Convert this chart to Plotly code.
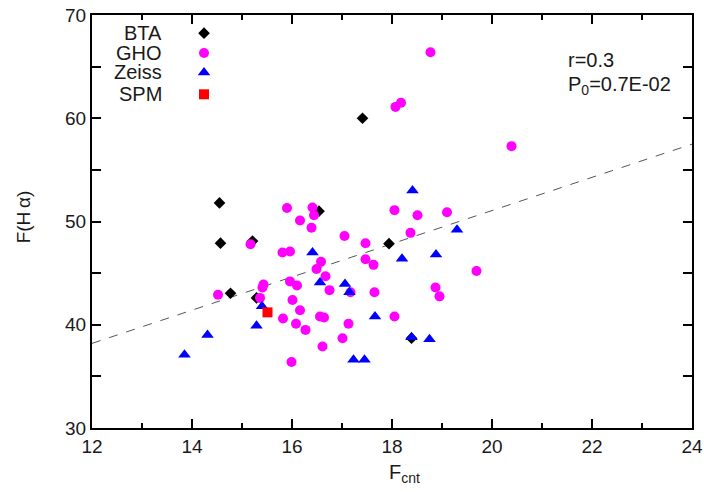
import plotly.graph_objects as go

# Observations by instrument: continuum flux vs H-alpha flux
bta_x = [14.55, 14.57, 14.77, 15.21, 15.29, 16.54, 17.41, 17.94, 18.39]
bta_y = [51.8, 47.9, 43.05, 48.1, 42.6, 51.0, 60.0, 47.85, 38.7]

gho_x = [15.90, 16.41, 16.44, 16.16, 16.39, 17.05, 17.47, 15.17, 15.81, 15.96,
         16.58, 16.49, 17.47, 17.63, 16.67, 15.96, 16.10, 15.43, 15.41, 14.52,
         16.75, 17.17, 17.65, 15.36, 16.01, 16.16, 15.82, 16.08, 16.56, 16.64,
         17.13, 16.27, 17.01, 16.61, 15.99, 18.05, 18.05, 18.51, 19.10, 18.37,
         19.69, 18.87, 18.95, 18.07, 18.18, 18.77, 20.39]
gho_y = [51.3, 51.35, 50.6, 50.1, 49.4, 48.6, 47.9, 47.8, 47.0, 47.1,
         46.1, 45.4, 46.35, 45.8, 44.7, 44.2, 43.8, 43.9, 43.6, 42.9,
         43.35, 43.15, 43.15, 42.6, 42.4, 41.4, 40.6, 40.1, 40.8, 40.7,
         40.1, 39.5, 38.7, 37.9, 36.4, 51.1, 40.8, 50.6, 50.9, 48.9,
         45.2, 43.6, 42.75, 61.1, 61.5, 66.4, 57.3]

zeiss_x = [16.41, 16.56, 17.06, 17.15, 15.40, 15.29, 14.31, 13.85, 17.23,
           17.45, 17.66, 18.20, 19.30, 18.88, 18.39, 18.75, 18.41]
zeiss_y = [47.0, 44.1, 43.95, 43.15, 41.8, 39.9, 39.0, 37.1, 36.6,
           36.6, 40.8, 46.4, 49.2, 46.8, 38.8, 38.6, 53.0]

spm_x = [15.51]
spm_y = [41.2]

# Linear fit F(Ha) = a + b * Fcnt
fit_a = 18.9
fit_b = 1.608
fit_x = [12, 24]

x_ticks = [12, 14, 16, 18, 20, 22, 24]
y_ticks = [30, 40, 50, 60, 70]

series_names = ["BTA", "GHO", "Zeiss", "SPM"]
series_symbols = ["diamond", "circle", "triangle-up", "square"]
series_colors = ["#000000", "#ff00ff", "#0000ff", "#ff0000"]
series_sizes = [9, 10, 11, 10]

FONT = "Liberation Sans, Arial, sans-serif"
TXT = "#1a1a1a"

fig = go.Figure()

fig.add_trace(go.Scatter(
    x=fit_x, y=[fit_a + fit_b * v for v in fit_x], mode="lines",
    line=dict(color="#555555", width=1, dash="dash"), showlegend=False,
    hoverinfo="skip"))

data = [(bta_x, bta_y), (gho_x, gho_y), (zeiss_x, zeiss_y), (spm_x, spm_y)]
for (xs, ys), name, sym, col, sz in zip(data, series_names, series_symbols,
                                         series_colors, series_sizes):
    fig.add_trace(go.Scatter(
        x=xs, y=ys, mode="markers", name=name,
        marker=dict(symbol=sym, color=col, size=sz, line=dict(width=0)),
        showlegend=False))

# Key: labels on the left, symbols on the right, on an overlay axis in [0,1]
key_y = [0.956, 0.908, 0.861, 0.808]
for name, sym, col, sz, ky in zip(series_names, series_symbols, series_colors,
                                  series_sizes, key_y):
    fig.add_trace(go.Scatter(
        x=[0.1867], y=[ky], mode="markers", xaxis="x2", yaxis="y2",
        marker=dict(symbol=sym, color=col, size=sz, line=dict(width=0)),
        showlegend=False, hoverinfo="skip"))
    fig.add_annotation(
        x=0.12, y=ky, xref="paper", yref="paper", text=name, showarrow=False,
        xanchor="right", yanchor="middle", font=dict(family=FONT, size=20, color=TXT))

fig.add_annotation(
    x=0.79, y=0.891, xref="paper", yref="paper", text="r=0.3", showarrow=False,
    xanchor="left", yanchor="middle", font=dict(family=FONT, size=20, color=TXT))
fig.add_annotation(
    x=0.79, y=0.829, xref="paper", yref="paper", text="P<sub>0</sub>=0.7E-02",
    showarrow=False, xanchor="left", yanchor="middle",
    font=dict(family=FONT, size=20, color=TXT))

# Axis titles
fig.add_annotation(
    x=0.4917, y=-0.075, xref="paper", yref="paper", text="F<sub>cnt</sub>",
    showarrow=False, xanchor="left", yanchor="top",
    font=dict(family=FONT, size=20, color=TXT))
fig.add_annotation(
    x=-0.115, y=0.51, xref="paper", yref="paper", text="F(H\u2009\u03b1)",
    showarrow=False, textangle=-90, xanchor="center", yanchor="middle",
    font=dict(family=FONT, size=19, color=TXT))

axis_common = dict(
    showline=True, linecolor="#000000", linewidth=2, mirror="ticks",
    ticks="inside", tickcolor="#000000", tickwidth=1.5, ticklen=9,
    showgrid=False, zeroline=False, automargin=False,
    tickfont=dict(family=FONT, size=19, color=TXT))

fig.update_layout(
    width=704, height=492,
    margin=dict(l=92, r=12, t=15, b=64),
    paper_bgcolor="white", plot_bgcolor="white",
    xaxis=dict(range=[12, 24], tickvals=x_ticks,
               minor=dict(ticks="inside", dtick=1, ticklen=5, tickwidth=1.5,
                          tickcolor="#000000", showgrid=False),
               **axis_common),
    yaxis=dict(range=[30, 70], tickvals=y_ticks,
               minor=dict(ticks="inside", dtick=5, ticklen=9, tickwidth=1.5,
                          tickcolor="#000000", showgrid=False),
               **axis_common),
    xaxis2=dict(range=[0, 1], overlaying="x", visible=False),
    yaxis2=dict(range=[0, 1], overlaying="y", visible=False),
)

fig.write_html("out.html")
